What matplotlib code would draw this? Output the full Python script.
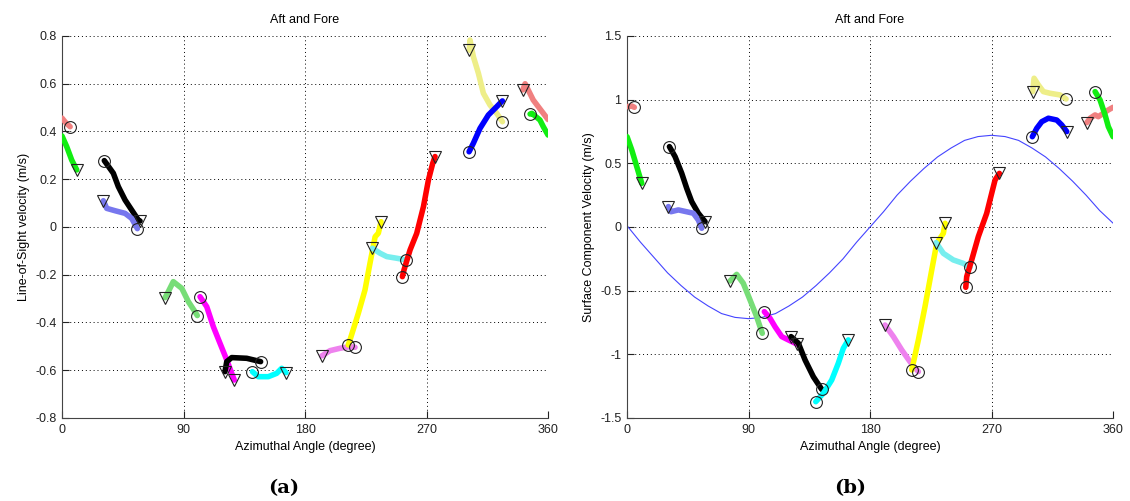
import numpy as np
import matplotlib.pyplot as plt

plt.rcParams['font.family'] = ['Liberation Sans', 'DejaVu Sans']

# colours of each drawn segment (tracks crossing 360 are split in two)
seg_colors = ['#F08080', '#F08080', '#11EE11', '#11EE11', 'black', '#7777EE',
              '#77DD77', '#FF00FF', 'black', '#00FFFF', '#EE82EE', '#FFFF00',
              '#77EEEE', '#FF0000', '#EEEE88', '#0000FF']

# (a) line-of-sight velocity
los_deg = [[341.3, 343, 349, 356.5, 360],
           [0, 3, 6],
           [346.7, 348, 354, 356.5, 360],
           [0, 3.5, 7.2, 10.9],
           [31.3, 38, 41.7, 46.7, 51.6, 56.5, 57.8],
           [30.6, 33.1, 39.3, 46.7, 51.6, 55.8],
           [76.3, 78.7, 82.4, 88.7, 93.6, 98.5, 100.2],
           [102.2, 107.2, 112.1, 117, 122, 125.7, 127.6],
           [120.7, 122, 125.7, 136.8, 144.2, 147.1],
           [141, 145.4, 152.8, 159, 162.7, 165.9],
           [192.4, 198.5, 205.9, 213.3, 217],
           [212, 213.3, 219.5, 224.4, 228.1, 231.9, 234.3, 236.3],
           [229.9, 235.6, 240.5, 247.9, 254.8],
           [252.1, 253.3, 257.8, 262.7, 267.7, 271.4, 274.6, 276.3],
           [301.7, 302.2, 304.7, 308.4, 312.1, 317, 322, 326.2],
           [301.5, 304.7, 309.6, 315.8, 322, 324.4, 326.2]]
los_val = [[0.574, 0.60, 0.532, 0.476, 0.45],
           [0.456, 0.435, 0.42],
           [0.473, 0.476, 0.448, 0.42, 0.385],
           [0.381, 0.336, 0.28, 0.239],
           [0.278, 0.225, 0.169, 0.113, 0.071, 0.029, 0.025],
           [0.110, 0.078, 0.068, 0.057, 0.036, -0.007],
           [-0.296, -0.271, -0.229, -0.257, -0.313, -0.355, -0.371],
           [-0.292, -0.334, -0.418, -0.487, -0.557, -0.613, -0.641],
           [-0.606, -0.564, -0.547, -0.550, -0.560, -0.564],
           [-0.606, -0.627, -0.627, -0.613, -0.592, -0.610],
           [-0.540, -0.518, -0.508, -0.501, -0.504],
           [-0.494, -0.473, -0.361, -0.264, -0.152, -0.041, -0.026, 0.022],
           [-0.089, -0.110, -0.124, -0.131, -0.138],
           [-0.208, -0.180, -0.096, -0.027, 0.085, 0.197, 0.267, 0.295],
           [0.741, 0.783, 0.713, 0.644, 0.56, 0.511, 0.476, 0.441],
           [0.315, 0.351, 0.413, 0.469, 0.504, 0.518, 0.528]]
los_tri_deg = [341.3, 10.9, 57.8, 30.6, 76.3, 127.6, 120.7, 165.9, 192.4, 236.3, 229.9, 276.3, 301.7, 326.2]
los_tri_val = [0.574, 0.239, 0.025, 0.110, -0.296, -0.641, -0.606, -0.610, -0.540, 0.022, -0.089, 0.295, 0.741, 0.528]
los_circ_deg = [5.9, 346.7, 31.3, 55.8, 100.2, 102.2, 147.1, 141, 217, 212, 254.8, 252.1, 326.2, 301.5]
los_circ_val = [0.42, 0.473, 0.278, -0.007, -0.371, -0.292, -0.564, -0.606, -0.504, -0.494, -0.138, -0.208, 0.441, 0.315]

# (b) surface component velocity
sfc_deg = [[340.5, 343, 346.7, 349.1, 352.8, 356.5, 360],
           [0, 3.5, 5.4],
           [346.7, 350.4, 354.1, 356.5, 360],
           [0, 3.5, 7.2, 10.9],
           [31.4, 35.6, 40.5, 44.2, 47.9, 52.8, 57.8],
           [30.6, 32.6, 38, 49.1, 52.8, 55.3],
           [76.3, 81.2, 86.1, 91.1, 96, 98.5, 100.2],
           [101.7, 105.9, 109.6, 114.6, 119.5, 125.7],
           [121.5, 126.9, 131.9, 138, 144.2],
           [139.8, 145.4, 151.6, 156.5, 160.2, 163.9],
           [191.1, 197.3, 203.5, 209.6, 215.8],
           [210.9, 215.8, 220.7, 225.7, 229.4, 234.3, 235.6],
           [228.9, 234.3, 241.7, 249.1, 254.1],
           [250.9, 251.6, 255.3, 260.2, 266.4, 270.1, 272.6, 275.8],
           [300.5, 301.5, 304.7, 308.4, 313.3, 320.7, 325.2],
           [300.2, 303.5, 307.2, 312.1, 318.3, 322, 325.7]]
sfc_val = [[0.819, 0.854, 0.880, 0.866, 0.893, 0.919, 0.940],
           [0.945, 0.950, 0.940],
           [1.063, 0.997, 0.880, 0.788, 0.709],
           [0.709, 0.605, 0.474, 0.343],
           [0.631, 0.552, 0.422, 0.304, 0.199, 0.108, 0.042],
           [0.160, 0.120, 0.134, 0.108, 0.055, -0.010],
           [-0.424, -0.372, -0.442, -0.573, -0.704, -0.783, -0.835],
           [-0.665, -0.717, -0.783, -0.861, -0.887, -0.919],
           [-0.861, -0.913, -1.045, -1.176, -1.275],
           [-1.372, -1.306, -1.202, -1.070, -0.953, -0.887],
           [-0.770, -0.861, -0.966, -1.058, -1.136],
           [-1.123, -0.887, -0.626, -0.338, -0.128, -0.050, 0.029],
           [-0.123, -0.207, -0.259, -0.286, -0.317],
           [-0.474, -0.390, -0.259, -0.076, 0.107, 0.264, 0.369, 0.421],
           [1.063, 1.168, 1.115, 1.063, 1.050, 1.037, 1.005],
           [0.709, 0.775, 0.827, 0.854, 0.840, 0.801, 0.749]]
sfc_tri_deg = [340.5, 10.9, 57.8, 30.6, 76.3, 125.7, 121.5, 163.9, 191.1, 235.6, 228.9, 275.8, 300.5, 325.7]
sfc_tri_val = [0.819, 0.343, 0.042, 0.160, -0.424, -0.919, -0.861, -0.887, -0.770, 0.029, -0.123, 0.421, 1.063, 0.749]
sfc_circ_deg = [5.4, 346.7, 31.4, 55.3, 100.2, 101.7, 144.2, 139.8, 215.8, 210.9, 254.1, 250.9, 325.2, 300.2]
sfc_circ_val = [0.940, 1.063, 0.631, -0.010, -0.835, -0.665, -1.275, -1.372, -1.136, -1.123, -0.317, -0.474, 1.005, 0.709]

# thin reference curve on (b), read every 10 degrees
ref_deg = [0, 10, 20, 30, 40, 50, 60, 70, 80, 90, 100, 110, 120, 130, 140, 150, 160, 170,
           180, 190, 200, 210, 220, 230, 240, 250, 260, 270, 280, 290, 300, 310, 320, 330,
           340, 350, 360]
ref_val = [0.01, -0.12, -0.24, -0.36, -0.46, -0.55, -0.62, -0.68, -0.71, -0.72, -0.71, -0.68,
           -0.62, -0.55, -0.46, -0.36, -0.25, -0.12, 0.0, 0.12, 0.25, 0.36, 0.46, 0.55,
           0.62, 0.68, 0.71, 0.72, 0.71, 0.68, 0.62, 0.55, 0.46, 0.36, 0.25, 0.13, 0.03]

x_ticks = [0, 90, 180, 270, 360]
los_ticks = [0.8, 0.6, 0.4, 0.2, 0, -0.2, -0.4, -0.6, -0.8]
los_labels = ['0.8', '0.6', '0.4', '0.2', '0', '-0.2', '-0.4', '-0.6', '-0.8']
sfc_ticks = [1.5, 1, 0.5, 0, -0.5, -1, -1.5]
sfc_labels = ['1.5', '1', '0.5', '0', '-0.5', '-1', '-1.5']


def draw_panel(ax, degs, vals, tri_d, tri_v, circ_d, circ_v):
    """draws the tracks plus the start/end markers"""
    for d, v, c in zip(degs, vals, seg_colors):
        ax.plot(d, v, color=c, linewidth=4, solid_capstyle='round', zorder=3)
    ax.plot(tri_d, tri_v, 'v', markersize=9, mfc='none', mec='#222222', mew=0.8, zorder=4)
    ax.plot(circ_d, circ_v, 'o', markersize=8.5, mfc='none', mec='#222222', mew=0.8, zorder=4)


def style_axes(ax, yticks, ylabels, ylim, ylab):
    ax.set_xlim(0, 360)
    ax.set_ylim(ylim)
    ax.set_xticks(x_ticks)
    ax.set_yticks(yticks)
    ax.set_yticklabels(ylabels)
    ax.grid(True, color='black', linestyle=(0, (1, 3)), linewidth=0.7)
    ax.spines['top'].set_visible(False)
    ax.spines['right'].set_visible(False)
    ax.spines['left'].set_color('#444444')
    ax.spines['bottom'].set_color('#444444')
    ax.tick_params(direction='in', length=5, labelsize=9, colors='#222222', pad=4)
    ax.set_xlabel('Azimuthal Angle (degree)', fontsize=9)
    ax.set_ylabel(ylab, fontsize=9)
    ax.set_title('Aft and Fore', fontsize=9, pad=9)


fig = plt.figure(figsize=(11.3, 5.01), dpi=100)
ax1 = fig.add_axes([0.0549, 0.1657, 0.4301, 0.7625])
ax2 = fig.add_axes([0.5549, 0.1657, 0.4301, 0.7625])

draw_panel(ax1, los_deg, los_val, los_tri_deg, los_tri_val, los_circ_deg, los_circ_val)
style_axes(ax1, los_ticks, los_labels, (-0.8, 0.8), 'Line-of-Sight velocity (m/s)')

ax2.plot(ref_deg, ref_val, color='#4444FF', linewidth=0.8, zorder=2)
draw_panel(ax2, sfc_deg, sfc_val, sfc_tri_deg, sfc_tri_val, sfc_circ_deg, sfc_circ_val)
style_axes(ax2, sfc_ticks, sfc_labels, (-1.5, 1.5), 'Surface Component Velocity (m/s)')

fig.text(0.251, 0.026, '(a)', family='DejaVu Serif', fontweight='bold', fontsize=14,
         ha='center', va='center')
fig.text(0.752, 0.026, '(b)', family='DejaVu Serif', fontweight='bold', fontsize=14,
         ha='center', va='center')

plt.savefig('out.png', dpi=100)
